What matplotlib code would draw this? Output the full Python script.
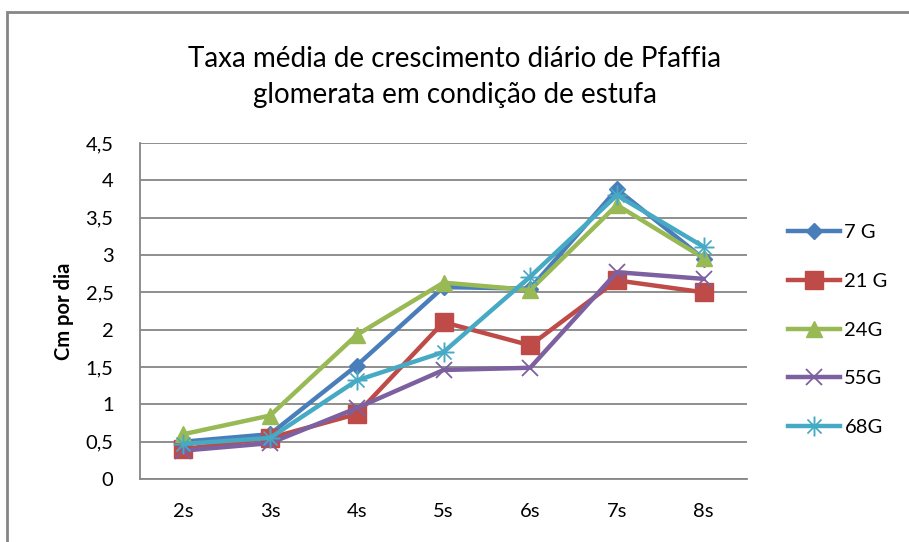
import matplotlib.pyplot as plt
from matplotlib.patches import Rectangle

semanas = ['2s', '3s', '4s', '5s', '6s', '7s', '8s']
g7 = [0.50, 0.60, 1.52, 2.57, 2.55, 3.88, 2.95]
g21 = [0.40, 0.55, 0.87, 2.10, 1.79, 2.66, 2.50]
g24 = [0.60, 0.85, 1.93, 2.63, 2.53, 3.67, 2.96]
g55 = [0.38, 0.48, 0.95, 1.46, 1.49, 2.77, 2.68]
g68 = [0.47, 0.55, 1.32, 1.70, 2.71, 3.80, 3.11]
nomes = ['7 G', '21 G', '24G', '55G', '68G']
ticks_y = [0, 0.5, 1, 1.5, 2, 2.5, 3, 3.5, 4, 4.5]
rotulos_y = ['0', '0,5', '1', '1,5', '2', '2,5', '3', '3,5', '4', '4,5']

plt.rcParams['font.family'] = ['Lato', 'DejaVu Sans']

fig = plt.figure(figsize=(9.09, 5.42), dpi=100)
# moldura do grafico (so aparecem a esquerda e em cima)
fig.patches.append(Rectangle((7 / 909, -0.05), 1.1, 1 - 12 / 542 + 0.05,
                             transform=fig.transFigure, fill=False,
                             edgecolor='#868686', linewidth=2))

ax = fig.add_axes([140 / 909, 1 - 479 / 542, (747 - 140) / 909, (479 - 143) / 542])

x = range(len(semanas))
estilos = [
    (g7, '#4A7EBB', 'D', 8, None),
    (g21, '#BE4B48', 's', 13, None),
    (g24, '#98B954', '^', 12, None),
    (g55, '#7D60A0', 'x', 12, 1.3),
    (g68, '#46AAC5', '$\u2733$', 14, None),
]
for (vals, cor, mk, ms, mew), nome in zip(estilos, nomes):
    kw = {}
    if mew is not None:
        kw['markeredgewidth'] = mew
    if mk.startswith('$'):
        kw['markeredgewidth'] = 0.3
    ax.plot(x, vals, color=cor, linewidth=3.2, marker=mk, markersize=ms,
            markerfacecolor=cor, markeredgecolor=cor, label=nome, **kw)

ax.set_xlim(-0.5, len(semanas) - 0.5)
ax.set_ylim(0, 4.5)
ax.set_yticks(ticks_y)
ax.set_yticklabels(rotulos_y)
ax.set_xticks(list(x))
ax.set_xticklabels(semanas)
ax.tick_params(length=0, labelsize=14.5, colors='black')
ax.tick_params(axis='y', pad=19)
ax.tick_params(axis='x', pad=17.5)
ax.grid(axis='y', color='#868686', linewidth=1.3)
ax.set_axisbelow(True)
for s in ['top', 'right']:
    ax.spines[s].set_visible(False)
for s in ['left', 'bottom']:
    ax.spines[s].set_color('#868686')
    ax.spines[s].set_linewidth(1.3)

ax.set_ylabel('Cm por dia', fontsize=14.5, fontweight='bold', labelpad=8)

fig.text(455 / 909, 1 - 77 / 542,
         'Taxa média de crescimento diário de Pfaffia\nglomerata em condição de estufa',
         ha='center', va='center', fontsize=20, linespacing=1.5)

ax.legend(loc='center left', bbox_to_anchor=(1 + 41 / 607, 0.5 - 19 / 336),
          frameon=False, borderpad=0, borderaxespad=0,
          fontsize=14.5, labelspacing=1.57, handlelength=2.6, handletextpad=0.2)

fig.savefig('out.png', dpi=100)
